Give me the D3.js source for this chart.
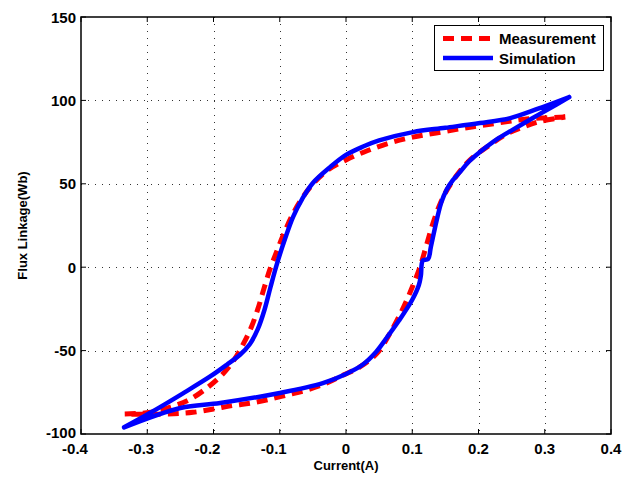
<!DOCTYPE html>
<html lang="en">
<head>
    <meta charset="UTF-8">
    <title>Flux Linkage vs Current</title>
    <script src="https://d3js.org/d3.v7.min.js"></script>
    <style>
        body {
            margin: 0;
            background: #fff;
            font-family: "Liberation Sans", Arial, sans-serif;
        }
        .tick-label {
            font-size: 15px;
            font-weight: bold;
        }
        .axis-label {
            font-size: 13px;
            font-weight: bold;
        }
        .legend-text {
            font-size: 15px;
            font-weight: bold;
        }
    </style>
</head>
<body>

<svg width="639" height="477"></svg>

<script>
    // current (A), flux linkage (Wb)
    const xTicks = [-0.4, -0.3, -0.2, -0.1, 0, 0.1, 0.2, 0.3, 0.4];
    const yTicks = [-100, -50, 0, 50, 100, 150];

    // measurement: descending branch (right tip -> left tip)
    const measDown = [
        [0.331, 90], [0.293, 89.4], [0.263, 88.4], [0.232, 86.6], [0.202, 84.8],
        [0.172, 83], [0.136, 80.5], [0.101, 78], [0.066, 74.5], [0.032, 69.8], [0, 64.3],
        [-0.029, 57.8], [-0.054, 48], [-0.07, 39], [-0.082, 30.5], [-0.095, 19], [-0.105, 9],
        [-0.115, -1.5], [-0.124, -13], [-0.133, -25], [-0.143, -36], [-0.155, -46],
        [-0.168, -55], [-0.186, -64], [-0.21, -72.4], [-0.237, -79.6], [-0.26, -83.2],
        [-0.291, -86.8], [-0.334, -88]
    ];
    // measurement: ascending branch (left tip -> right tip)
    const measUp = [
        [-0.334, -88], [-0.3, -88.2], [-0.26, -87.8], [-0.231, -87], [-0.2, -85],
        [-0.172, -83], [-0.143, -81.4], [-0.118, -79.4], [-0.089, -76.6], [-0.059, -73.6],
        [-0.029, -69.4], [-0.004, -64.6], [0.021, -59.8], [0.047, -51.5], [0.07, -37],
        [0.088, -23], [0.101, -11], [0.112, 0.5], [0.122, 14], [0.131, 26],
        [0.141, 37], [0.152, 46], [0.168, 55.5], [0.187, 64.3], [0.217, 73.3],
        [0.243, 80], [0.267, 84], [0.293, 87.4], [0.331, 90]
    ];

    // simulation: descending branch (right tip -> left tip)
    const simDown = [
        [0.337, 102], [0.29, 95], [0.248, 89.4], [0.202, 86.4], [0.15, 83.6], [0.101, 81],
        [0.05, 76], [0.025, 72.2], [0, 67.3], [-0.024, 60], [-0.05, 50.5], [-0.066, 41],
        [-0.08, 30], [-0.092, 17], [-0.105, 1], [-0.114, -12], [-0.123, -25.5],
        [-0.133, -37], [-0.145, -46], [-0.16, -52.5], [-0.18, -58.5], [-0.205, -65.5],
        [-0.246, -75.6], [-0.296, -87.4], [-0.335, -96]
    ];
    // simulation: ascending branch (left tip -> right tip)
    const simUp = [
        [-0.335, -96], [-0.25, -84.4], [-0.19, -81.4], [-0.1, -75.4], [-0.035, -69.5],
        [0, -64], [0.025, -58.5], [0.045, -51], [0.062, -42], [0.08, -32], [0.1, -19.5],
        [0.11, -10.7], [0.113, -5], [0.116, 4], [0.124, 5], [0.128, 12],
        [0.137, 28.3], [0.144, 39], [0.152, 46.5], [0.161, 52], [0.172, 57],
        [0.186, 63.5], [0.202, 69], [0.227, 76.5], [0.252, 82.5], [0.28, 89],
        [0.303, 94.2], [0.337, 102]
    ];

    const svg = d3.select("svg");
    const margin = { top: 17, right: 28, bottom: 43, left: 81 };
    const width = 639, height = 477;

    const x = d3.scaleLinear().domain([-0.4, 0.4]).range([margin.left, width - margin.right]);
    const y = d3.scaleLinear().domain([-100, 150]).range([height - margin.bottom, margin.top]);

    // grid
    const grid = svg.append("g")
        .attr("stroke", "#333")
        .attr("stroke-width", 1)
        .attr("stroke-dasharray", "1,6");
    grid.selectAll(".gx")
        .data(xTicks.slice(1, -1))
        .enter().append("line")
        .attr("x1", d => Math.round(x(d)) + 0.5).attr("x2", d => Math.round(x(d)) + 0.5)
        .attr("y1", y(150)).attr("y2", y(-100));
    grid.selectAll(".gy")
        .data(yTicks.slice(1, -1))
        .enter().append("line")
        .attr("y1", d => Math.round(y(d)) + 0.5).attr("y2", d => Math.round(y(d)) + 0.5)
        .attr("x1", x(-0.4)).attr("x2", x(0.4));

    // curves
    const line = d3.line()
        .x(d => x(d[0]))
        .y(d => y(d[1]))
        .curve(d3.curveCatmullRom.alpha(0.5));

    svg.append("path")
        .attr("d", line(measDown) + line(measUp).replace("M", "L"))
        .attr("fill", "none")
        .attr("stroke", "#ff0000")
        .attr("stroke-width", 5)
        .attr("stroke-dasharray", "11,7");

    svg.append("path")
        .attr("d", line(simDown) + line(simUp).replace("M", "L"))
        .attr("fill", "none")
        .attr("stroke", "#0000ff")
        .attr("stroke-width", 4.5)
        .attr("stroke-linejoin", "round")
        .attr("stroke-linecap", "round");

    // axes (MATLAB style box with inward ticks)
    const tickLen = 5;
    const axes = svg.append("g").attr("stroke", "#000").attr("stroke-width", 1);
    xTicks.forEach(t => {
        axes.append("line").attr("x1", x(t)).attr("x2", x(t))
            .attr("y1", y(-100)).attr("y2", y(-100) - tickLen);
        axes.append("line").attr("x1", x(t)).attr("x2", x(t))
            .attr("y1", y(150)).attr("y2", y(150) + tickLen);
    });
    yTicks.forEach(t => {
        axes.append("line").attr("y1", y(t)).attr("y2", y(t))
            .attr("x1", x(-0.4)).attr("x2", x(-0.4) + tickLen);
        axes.append("line").attr("y1", y(t)).attr("y2", y(t))
            .attr("x1", x(0.4)).attr("x2", x(0.4) - tickLen);
    });
    svg.append("rect")
        .attr("x", x(-0.4)).attr("y", y(150))
        .attr("width", x(0.4) - x(-0.4)).attr("height", y(-100) - y(150))
        .attr("fill", "none")
        .attr("stroke", "#000")
        .attr("stroke-width", 1.5);

    // tick labels
    svg.selectAll(".xl")
        .data(xTicks)
        .enter().append("text")
        .attr("class", "tick-label")
        .attr("x", d => x(d) - (d < 0 ? 6 : 0))
        .attr("y", y(-100) + 20)
        .attr("text-anchor", "middle")
        .text(d => d === 0 ? "0" : d3.format(".1f")(d).replace("−", "-"));

    svg.selectAll(".yl")
        .data(yTicks)
        .enter().append("text")
        .attr("class", "tick-label")
        .attr("x", x(-0.4) - 5)
        .attr("y", d => y(d) + 5.5 - (d === -100 ? 1.5 : 0))
        .attr("text-anchor", "end")
        .text(d => String(d));

    // axis titles
    svg.append("text")
        .attr("class", "axis-label")
        .attr("x", x(0))
        .attr("y", 470)
        .attr("text-anchor", "middle")
        .text("Current(A)");

    svg.append("text")
        .attr("class", "axis-label")
        .attr("transform", `translate(27,${(y(150) + y(-100)) / 2}) rotate(-90)`)
        .attr("text-anchor", "middle")
        .text("Flux Linkage(Wb)");

    // legend
    const legend = svg.append("g");
    legend.append("rect")
        .attr("x", 434.5).attr("y", 25.5)
        .attr("width", 169).attr("height", 45)
        .attr("fill", "#fff")
        .attr("stroke", "#000")
        .attr("stroke-width", 1);
    const entries = [
        { name: "Measurement", color: "#ff0000", dash: "11,7", w: 5, yy: 38.5 },
        { name: "Simulation", color: "#0000ff", dash: null, w: 4.5, yy: 58 }
    ];
    entries.forEach(e => {
        legend.append("line")
            .attr("x1", 443).attr("x2", 493)
            .attr("y1", e.yy).attr("y2", e.yy)
            .attr("stroke", e.color)
            .attr("stroke-width", e.w)
            .attr("stroke-dasharray", e.dash);
        legend.append("text")
            .attr("class", "legend-text")
            .attr("x", 499)
            .attr("y", e.yy + 5.5)
            .text(e.name);
    });
</script>

</body>
</html>
